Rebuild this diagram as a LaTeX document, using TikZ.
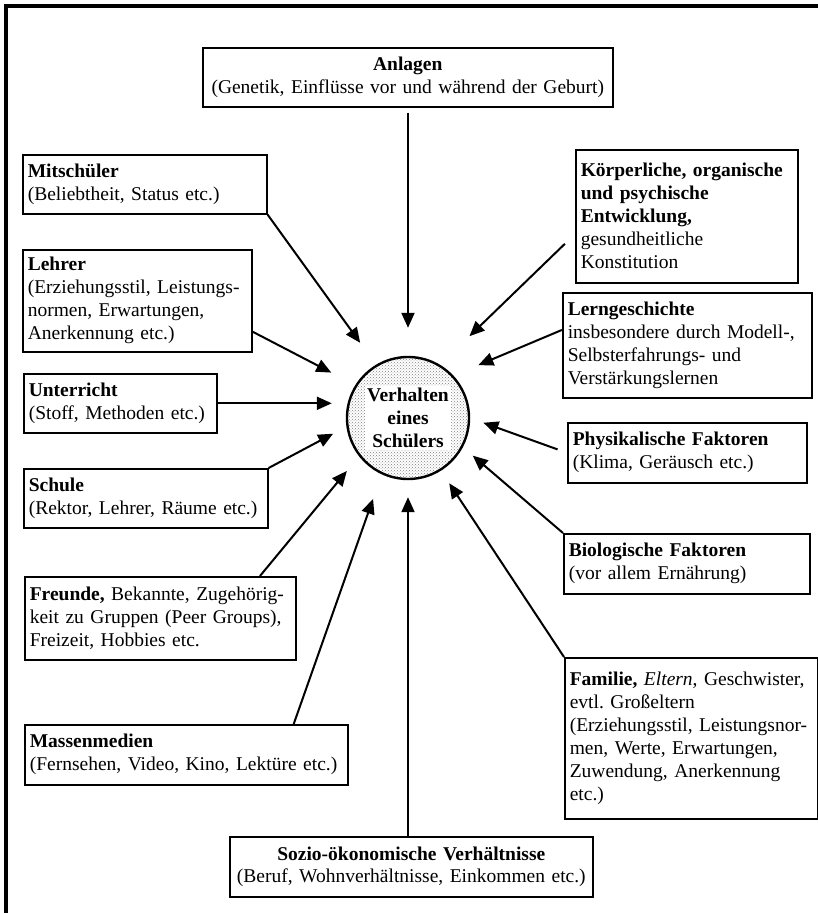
\documentclass[tikz,border=0pt]{standalone}
\usepackage{fontspec}
\setmainfont{Liberation Serif}
\usetikzlibrary{arrows.meta,patterns}
\newcommand{\fs}{\fontsize{19.5}{23}\selectfont}
\tikzset{
  box/.style={draw, line width=1.6pt, rectangle, anchor=north west, align=left, inner xsep=5pt, font=\fs},
  arr/.style={-{Triangle[length=15pt,width=13pt]}, line width=2pt},
}
\begin{document}
\begin{tikzpicture}[x=1pt,y=-1pt]
    \useasboundingbox (0,0) rectangle (818,913);
    \pgfmathsetmacro{\cx}{408};
    \pgfmathsetmacro{\cy}{418};
    \draw[line width=3.2pt] (6,913) -- (6,6) -- (818,6);
    % centre
    \node[circle, draw, line width=2.4pt, minimum size=122pt, pattern=crosshatch dots, pattern color=gray] (c) at (\cx,\cy) {};
    \node[fill=white, inner sep=2pt, align=center, font=\fs\bfseries] (ctext) at (c) {Verhalten\\eines\\Schülers};
    % left column
    \node[box, align=center, minimum width=410pt, minimum height=59pt, text width=400pt] (anl) at (202,47) {\textbf{Anlagen}\\(Genetik, Einflüsse vor und während der Geburt)};
    \node[box, minimum width=244pt, minimum height=59pt, text width=234pt] (mit) at (22,154) {\textbf{Mitschüler}\\(Beliebtheit, Status etc.)};
    \node[box, minimum width=229pt, minimum height=102pt, text width=219pt] (leh) at (22,249) {\textbf{Lehrer}\\(Erziehungsstil, Leistungs-\\normen, Erwartungen,\\Anerkennung etc.)};
    \node[box, minimum width=193pt, minimum height=59pt, text width=183pt] (unt) at (23,373) {\textbf{Unterricht}\\(Stoff, Methoden etc.)};
    \node[box, minimum width=244pt, minimum height=59pt, text width=234pt] (sch) at (23,468) {\textbf{Schule}\\(Rektor, Lehrer, Räume etc.)};
    \node[box, minimum width=271pt, minimum height=83pt, text width=261pt] (fre) at (24,576) {\textbf{Freunde,} Bekannte, Zugehörig-\\keit zu Gruppen (Peer Groups),\\Freizeit, Hobbies etc.};
    \node[box, minimum width=323pt, minimum height=60pt, text width=313pt] (mas) at (24,724) {\textbf{Massenmedien}\\(Fernsehen, Video, Kino, Lektüre etc.)};
    \node[box, align=center, minimum width=363pt, minimum height=60pt, text width=353pt] (soz) at (229,836) {\textbf{Sozio-ökonomische Verhältnisse}\\(Beruf, Wohnverhältnisse, Einkommen etc.)};
    % right column
    \node[box, minimum width=222pt, minimum height=133pt, text width=212pt] (kor) at (575,149) {\textbf{Körperliche, organische}\\\textbf{und psychische}\\\textbf{Entwicklung,}\\gesundheitliche\\Konstitution};
    \node[box, minimum width=249pt, minimum height=105pt, text width=239pt] (ler) at (562,292) {\textbf{Lerngeschichte}\\insbesondere durch Modell-,\\Selbsterfahrungs- und\\Verstärkungslernen};
    \node[box, minimum width=239pt, minimum height=60pt, text width=229pt] (phy) at (567,422) {\textbf{Physikalische Faktoren}\\(Klima, Geräusch etc.)};
    \node[box, minimum width=246pt, minimum height=60pt, text width=236pt] (bio) at (563,533) {\textbf{Biologische Faktoren}\\(vor allem Ernährung)};
    \node[box, minimum width=253pt, minimum height=161pt, text width=243pt] (fam) at (564,657) {\textbf{Familie,} \textit{Eltern}, Geschwister,\\evtl.\ Großeltern\\(Erziehungsstil, Leistungsnor-\\men, Werte, Erwartungen,\\Zuwendung, Anerkennung\\etc.)};
    % arrows
    \draw[arr, shorten <=5pt, shorten >=28pt] (c.north |- anl.south) -- (c.north);
    \draw[arr, shorten >=27pt] (mit.south east) -- (c.121);
    \draw[arr, shorten >=27pt] (leh.-15) -- (c.148);
    \draw[arr, shorten >=14pt] (unt.east) -- (unt.east -| c.west);
    \draw[arr, shorten >=15pt] (sch.north east) -- (c.188);
    \draw[arr, shorten >=19pt] (fre.23) -- (c.218);
    \draw[arr, shorten >=26pt] (mas.16) -- (c.245);
    \draw[arr, shorten >=17pt] (c.south |- soz.north) -- (c.south);
    \draw[arr, shorten <=14pt, shorten >=41pt] (kor.189) -- (c.59);
    \draw[arr, shorten >=27pt] (ler.173) -- (c.43);
    \draw[arr, shorten <=10pt, shorten >=14pt] (phy.west) -- (c.0);
    \draw[arr, shorten >=13pt] (bio.north west) -- (c.-28);
    \draw[arr, shorten >=15pt] (fam.north west) -- (c.-58);
    % \draw[arr] (fam.north) -- (c);
\end{tikzpicture}
\end{document}
